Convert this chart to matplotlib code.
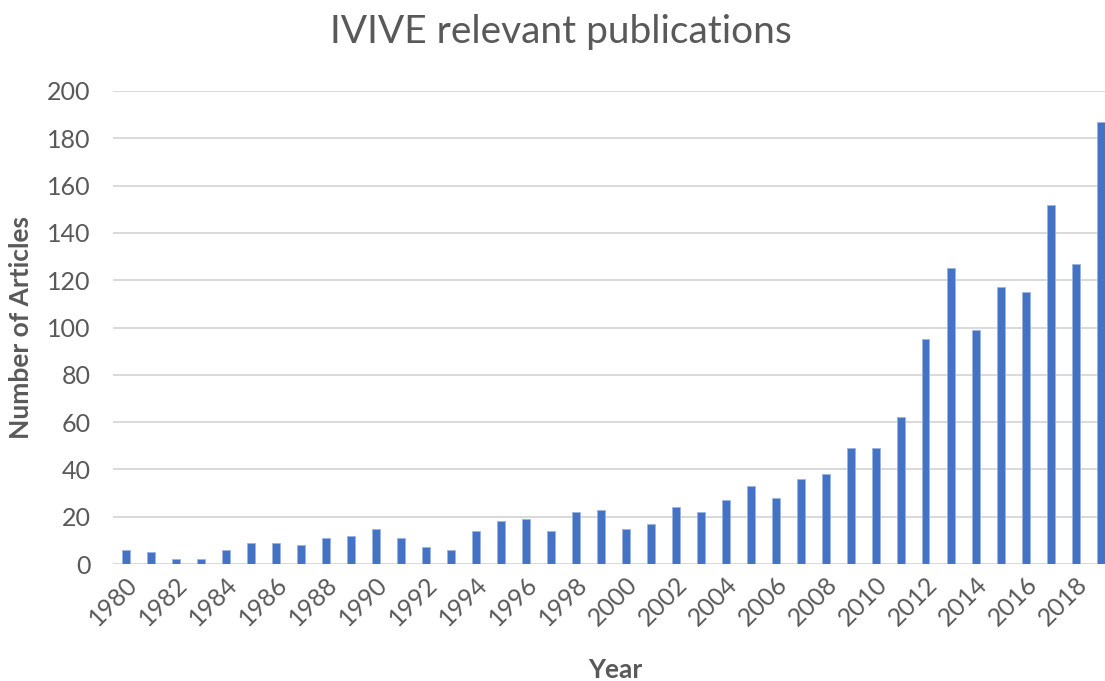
import matplotlib
matplotlib.use("Agg")
import matplotlib.pyplot as plt

years = list(range(1980, 2020))
articles = [6, 5, 2, 2, 6, 9, 9, 8, 11, 12, 15, 11, 7, 6, 14, 18, 19, 14, 22, 23,
            15, 17, 24, 22, 27, 33, 28, 36, 38, 49, 49, 62, 95, 125, 99, 117, 115, 152, 127, 187]
yticks = [0, 20, 40, 60, 80, 100, 120, 140, 160, 180, 200]
xtick_labels = [str(y) for y in years[::2]]

plt.rcParams['font.family'] = ['Lato', 'DejaVu Sans']
gray = '#595959'

fig = plt.figure(figsize=(11.05, 6.81), dpi=100)
ax = fig.add_axes([113/1105, (681-564)/681, 1000/1105, (564-91)/681])

x = list(range(len(years)))
ax.bar(x, articles, width=0.32, color='#4472C4', edgecolor='#9db3e0', linewidth=0.6, zorder=3)

ax.set_xlim(-0.5, len(years) - 0.5)
ax.set_ylim(0, 200)
ax.set_yticks(yticks)
ax.set_yticklabels([str(v) for v in yticks], fontsize=18, color=gray)
ax.set_xticks(x[::2])
ax.set_xticklabels(xtick_labels, rotation=45, ha='right', rotation_mode='anchor',
                   fontsize=18, color=gray)
ax.tick_params(axis='both', length=0)
ax.tick_params(axis='y', pad=16)
ax.tick_params(axis='x', pad=6)
ax.grid(axis='y', color='#d9d9d9', linewidth=1.4, zorder=0)
for s in ax.spines.values():
    s.set_visible(False)

ax.set_ylabel('Number of Articles', fontsize=19, fontweight='bold', color=gray, labelpad=10)
fig.text(615/1105, 1 - 670/681, 'Year', fontsize=19, fontweight='bold', color=gray,
         ha='center', va='center')
fig.text(561/1105, 1 - 32/681, 'IVIVE relevant publications', fontsize=28, color=gray,
         ha='center', va='center')

fig.savefig('out.png', dpi=100)
